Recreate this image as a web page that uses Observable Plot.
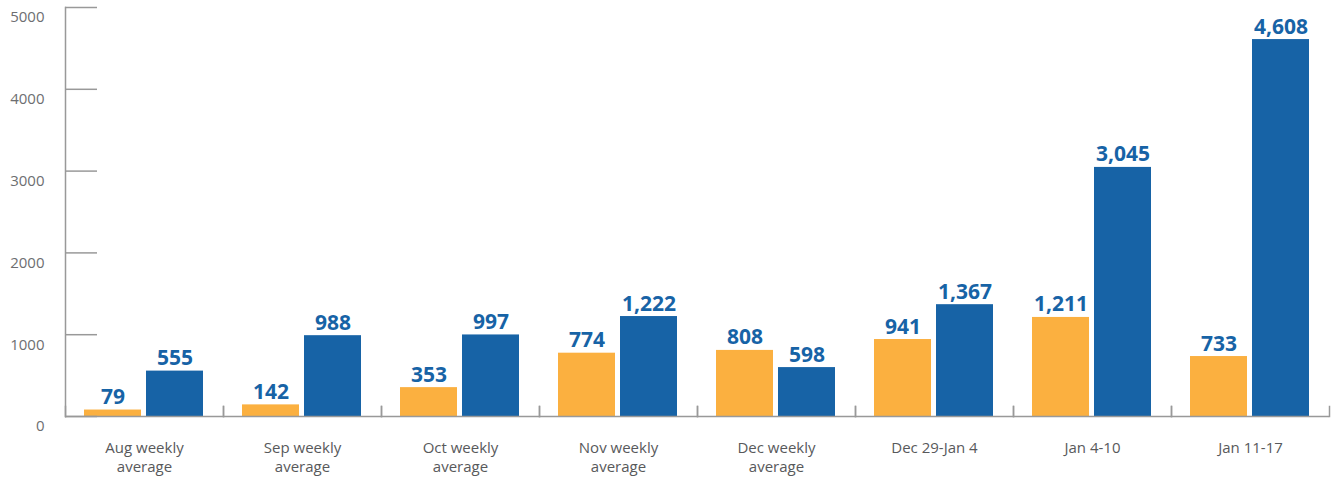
<!DOCTYPE html>
<html>
<head>
<meta charset="utf-8">
<script src="https://cdn.jsdelivr.net/npm/d3@7"></script>
<script src="https://cdn.jsdelivr.net/npm/@observablehq/plot@0.6"></script>
<style>
  html, body { margin: 0; padding: 0; background: #fff; }
  #chart { width: 1332px; height: 478px; }
  svg { font-family: "Open Sans", sans-serif; }
</style>
</head>
<body>
<div id="chart"></div>
<script>
const categories = [
  "Aug weekly\naverage",
  "Sep weekly\naverage",
  "Oct weekly\naverage",
  "Nov weekly\naverage",
  "Dec weekly\naverage",
  "Dec 29-Jan 4",
  "Jan 4-10",
  "Jan 11-17"
];
const seriesNames = ["Series 1", "Series 2"];
const series1 = [79, 142, 353, 774, 808, 941, 1211, 733];
const series2 = [555, 988, 997, 1222, 598, 1367, 3045, 4608];
const yTicks = [0, 1000, 2000, 3000, 4000, 5000];
const colors = ["#fbb040", "#1763a6"];

const data = [];
categories.forEach((c, i) => {
  data.push({category: c, series: seriesNames[0], value: series1[i]});
  data.push({category: c, series: seriesNames[1], value: series2[i]});
});

const W = 1332, H = 478, mTop = 7, mBottom = 62, mLeft = 64, mRight = 2;
const frameH = H - mTop - mBottom;

const chart = Plot.plot({
  width: W,
  height: H,
  marginTop: mTop,
  marginBottom: mBottom,
  marginLeft: mLeft,
  marginRight: mRight,
  style: {fontFamily: "'Open Sans', sans-serif", background: "#fff"},
  fx: {domain: categories, padding: 0, label: null},
  x: {domain: seriesNames, paddingInner: 0.08, paddingOuter: 0.294, axis: null},
  y: {domain: [0, 5000], label: null},
  color: {domain: seriesNames, range: colors},
  marks: [
    Plot.barY(data, {fx: "category", x: "series", y: "value", fill: "series"}),
    Plot.ruleY([0], {stroke: "#999", strokeWidth: 1.5}),
    Plot.frame({anchor: "left", stroke: "#999", strokeWidth: 1.5, insetTop: frameH - 10}),
    Plot.frame({anchor: "right", stroke: "#999", strokeWidth: 1.5, insetTop: frameH - 10}),
    Plot.frame({anchor: "left", fx: [categories[0]], stroke: "#999", strokeWidth: 1.5}),
    Plot.text(data, {
      fx: "category", x: "series", y: "value",
      text: d => d3.format(",")(d.value),
      lineAnchor: "bottom", dy: -6,
      fill: "#1763a6", fontSize: 21, fontWeight: "bold"
    }),
    Plot.axisY({ticks: yTicks, tickSize: -32, text: null, stroke: "#999", strokeWidth: 1.5}),
    Plot.axisY({ticks: yTicks, tickSize: 0, tickPadding: 21, dy: 10, fill: "#6d6e71", fontSize: 15, label: null, tickFormat: d => String(d)}),
    Plot.axisFx({anchor: "bottom", tickSize: 0, tickPadding: 23, fill: "#58595b", fontSize: 15, lineHeight: 1.27, label: null})
  ]
});

document.getElementById("chart").appendChild(chart);
</script>
</body>
</html>
